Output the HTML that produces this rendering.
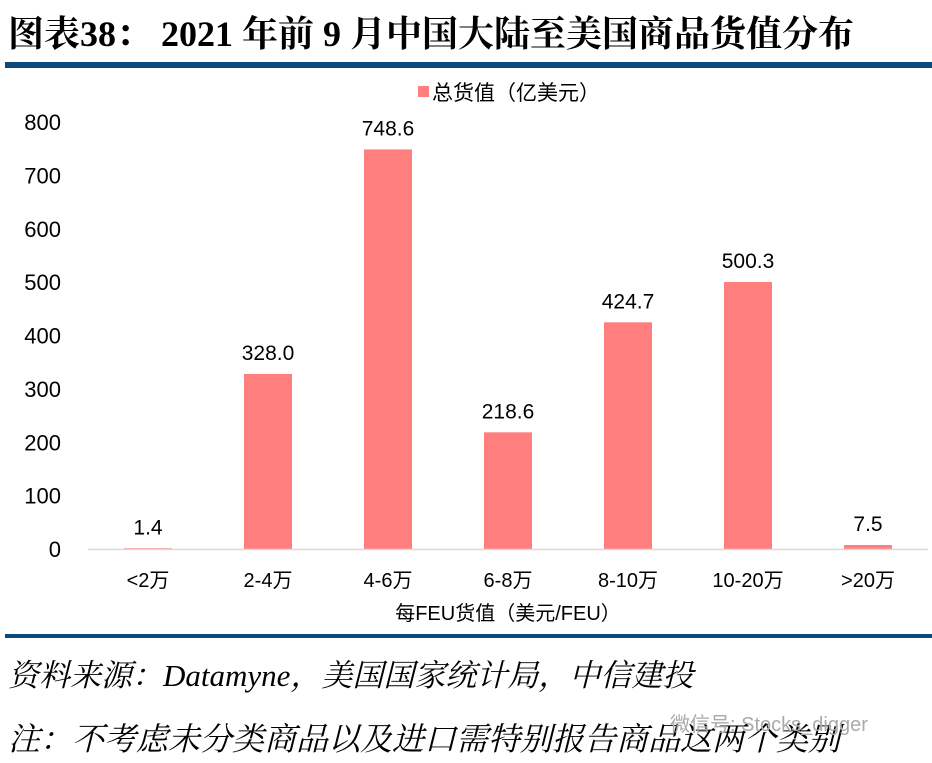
<!DOCTYPE html>
<html><head><meta charset="utf-8"><style>
body{margin:0;width:932px;height:763px;background:#fff;overflow:hidden;font-family:"Liberation Sans","Noto Sans CJK SC",sans-serif;}
.t{position:absolute;white-space:nowrap;}
</style></head><body>
<div class="t" style="left:8px;top:6px;font-family:'Liberation Serif','Noto Serif CJK SC',serif;font-weight:bold;font-size:36px;">图表38：&nbsp;2021 年前 9 月中国大陆至美国商品货值分布</div>
<div style="position:absolute;left:5px;top:62px;width:927px;height:6px;background:#0b4a7d"></div>
<svg id="c" width="932" height="763" style="position:absolute;left:0;top:0"></svg>
<div style="position:absolute;left:5px;top:634px;width:927px;height:4px;background:#0b4a7d"></div>
<div class="t" style="left:8px;top:650px;font-family:'Liberation Serif','Noto Serif CJK SC',serif;font-style:italic;font-size:31px;">资料来源：Datamyne，美国国家统计局，中信建投</div>
<div class="t" style="left:8px;top:714px;font-family:'Liberation Serif','Noto Serif CJK SC',serif;font-style:italic;font-size:32px;">注：不考虑未分类商品以及进口需特别报告商品这两个类别</div>
<div class="t" style="left:670px;top:708px;font-size:20px;color:#aaa;">微信号: Stocks_digger</div>
<script>
const categories=["<2万","2-4万","4-6万","6-8万","8-10万","10-20万",">20万"];
const values=[1.4,328.0,748.6,218.6,424.7,500.3,7.5];
const labels=["1.4","328.0","748.6","218.6","424.7","500.3","7.5"];
const yTicks=[0,100,200,300,400,500,600,700,800];
const svg=document.getElementById('c');const NS='http://www.w3.org/2000/svg';
const x0=88,x1=928,y0=549,yTop=122,yMax=800;
const band=(x1-x0)/categories.length;
const y=v=>y0-(v/yMax)*(y0-yTop);
const xc=i=>x0+band*(i+0.5);
function mk(t,a,txt){const e=document.createElementNS(NS,t);for(const k in a)e.setAttribute(k,a[k]);if(txt!=null)e.textContent=txt;svg.appendChild(e);return e;}
yTicks.forEach(v=>{const e=mk('text',{x:61,y:y(v)+8,'text-anchor':'end','font-size':22,fill:'#000'},v);

});
values.forEach((v,i)=>{const b=mk('rect',{x:xc(i)-24,y:y(v),width:48,height:y0-y(v),fill:'#ff7f7f'});


const l=mk('text',{x:xc(i),y:y(v)-14,'text-anchor':'middle','font-size':21,fill:'#000'},labels[i]);


const c=mk('text',{x:xc(i),y:587,'text-anchor':'middle','font-size':20,fill:'#000'},categories[i]);

});
const ax=mk('line',{x1:x0,x2:x1,y1:y0+0.5,y2:y0+0.5,stroke:'#d9d9d9','stroke-width':1.5});


const xt=mk('text',{x:508,y:620,'text-anchor':'middle','font-size':20,fill:'#000'},'每FEU货值（美元/FEU）');


const lr=mk('rect',{x:418,y:86,width:11,height:11,fill:'#ff7f7f'});


const lt=mk('text',{x:432,y:100,'font-size':21,fill:'#000'},'总货值（亿美元）');


</script>
</body></html>
